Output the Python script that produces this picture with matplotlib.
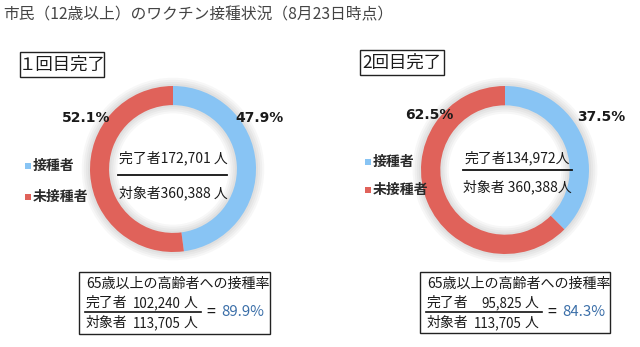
import matplotlib
matplotlib.use("Agg")
import matplotlib.pyplot as plt
from matplotlib.patches import Rectangle

plt.rcParams['font.family'] = ['Noto Sans CJK JP', 'DejaVu Sans']

# 接種状況（8月23日時点）
panel_titles = ['１回目完了', '2回目完了']
done_people = [172701, 134972]
target_people = [360388, 360388]
pct_done = [47.9, 37.5]
pct_not = [52.1, 62.5]
legend_labels = ['接種者', '未接種者']
senior_done = [102240, 95825]
senior_target = [113705, 113705]
senior_rate = [89.9, 84.3]

BLUE = '#88c4f4'
RED = '#e0625a'
TXT = '#1a1a1a'

W, H = 640, 347
fig = plt.figure(figsize=(W / 100, H / 100), dpi=100)
fig.patch.set_facecolor('white')


def px_axes(x0, y0, w, h):
    # axes placed by pixel box (y measured from top)
    return fig.add_axes([x0 / W, (H - y0 - h) / H, w / W, h / H])


# ---- donuts ----
centers = [(173, 169, 83), (505, 170, 84)]
for i, (cx, cy, r) in enumerate(centers):
    ax = px_axes(cx - r - 10, cy - r - 10, 2 * r + 20, 2 * r + 20)
    lim = (r + 10) / r
    # soft shadow around the ring
    for k in range(4):
        ax.pie([1], radius=1.0 + 0.025 * (k + 1), colors=['#000000'],
               wedgeprops=dict(width=0.23 + 0.05 * (k + 1), alpha=0.03, linewidth=0))
    ax.pie([pct_done[i], pct_not[i]], colors=[BLUE, RED], startangle=90,
           counterclock=False, radius=1.0,
           wedgeprops=dict(width=0.23, linewidth=0))
    ax.set_xlim(-lim, lim)
    ax.set_ylim(-lim, lim)
    ax.set_aspect('equal')
    ax.axis('off')

# ---- overlay for texts and boxes ----
ov = fig.add_axes([0, 0, 1, 1])
ov.set_xlim(0, W)
ov.set_ylim(H, 0)
ov.axis('off')
ov.patch.set_alpha(0)

ov.text(3, 15, '市民（12歳以上）のワクチン接種状況（8月23日時点）',
        fontsize=11.3, color='#444444', va='center', ha='left')

title_boxes = [(20, 52, 84, 25), (360, 50, 84, 25)]
for i, (bx, by, bw, bh) in enumerate(title_boxes):
    ov.add_patch(Rectangle((bx, by), bw, bh, fill=False, edgecolor='#222222', lw=1.0))
    ov.text(bx + bw / 2, by + bh / 2 + 0.5, panel_titles[i], fontsize=12.5,
            color=TXT, ha='center', va='center')

# percentage labels
pct_pos = [((86, 118), (259, 118)), ((429, 115), (601, 117))]
for i in range(2):
    (nx, ny), (dx, dy) = pct_pos[i]
    ov.text(nx, ny, f'{pct_not[i]:.1f}%', fontsize=10, fontweight='bold',
            color=TXT, ha='center', va='center', family='DejaVu Sans')
    ov.text(dx, dy, f'{pct_done[i]:.1f}%', fontsize=10, fontweight='bold',
            color=TXT, ha='center', va='center', family='DejaVu Sans')

# legends
legend_pos = [(25, [166, 197]), (365, [162, 190])]
for lx, ys in legend_pos:
    for lab, col, ly in zip(legend_labels, [BLUE, RED], ys):
        ov.add_patch(Rectangle((lx, ly - 3), 6, 6, color=col, lw=0))
        ov.text(lx + 8, ly, lab, fontsize=10, fontweight='bold', color='#2a2a2a',
                ha='left', va='center')

# centre fractions
centre_layout = [(173, 158, 175, 193, 118, 227), (517, 158, 170, 187, 463, 572)]
done_fmt = ['完了者{:,} 人', '完了者{:,}人']
target_fmt = ['対象者{:,} 人', '対象者 {:,}人']
for i, (tx, y1, yl, y2, x0, x1) in enumerate(centre_layout):
    ov.text(tx, y1, done_fmt[i].format(done_people[i]), fontsize=10, color=TXT,
            ha='center', va='center')
    ov.plot([x0, x1], [yl, yl], color='#111111', lw=1.3)
    ov.text(tx, y2, target_fmt[i].format(target_people[i]), fontsize=10, color=TXT,
            ha='center', va='center')

# senior rate boxes
senior_boxes = [(79, 272, 191, 62), (420, 272, 190, 61)]
for i, (bx, by, bw, bh) in enumerate(senior_boxes):
    ov.add_patch(Rectangle((bx, by), bw, bh, fill=False, edgecolor='#222222', lw=1.0))
    ov.text(bx + 7, by + 12, '65歳以上の高齢者への接種率', fontsize=10.1, color=TXT,
            ha='left', va='center')
    lx0 = bx + 7
    lx1 = bx + 122
    ov.text(lx0, by + 31, '完了者', fontsize=10, color=TXT, ha='left', va='center')
    ov.text(lx0 + 95, by + 31, f'{senior_done[i]:,}', fontsize=9.6, color=TXT,
            ha='right', va='center')
    ov.text(lx0 + 98, by + 31, '人', fontsize=10, color=TXT, ha='left', va='center')
    ov.plot([lx0 - 1, lx1], [by + 40, by + 40], color='#111111', lw=1.2)
    ov.text(lx0, by + 51, '対象者', fontsize=10, color=TXT, ha='left', va='center')
    ov.text(lx0 + 95, by + 51, f'{senior_target[i]:,}', fontsize=9.6, color=TXT,
            ha='right', va='center')
    ov.text(lx0 + 98, by + 51, '人', fontsize=10, color=TXT, ha='left', va='center')
    ov.text(lx1 + 5, by + 40, '=', fontsize=11.5, color=TXT, ha='left', va='center')
    ov.text(lx1 + 20, by + 40, f'{senior_rate[i]:.1f}%', fontsize=10.8,
            color='#3a6ea8', ha='left', va='center')

fig.savefig('out.png', dpi=100, facecolor='white')
